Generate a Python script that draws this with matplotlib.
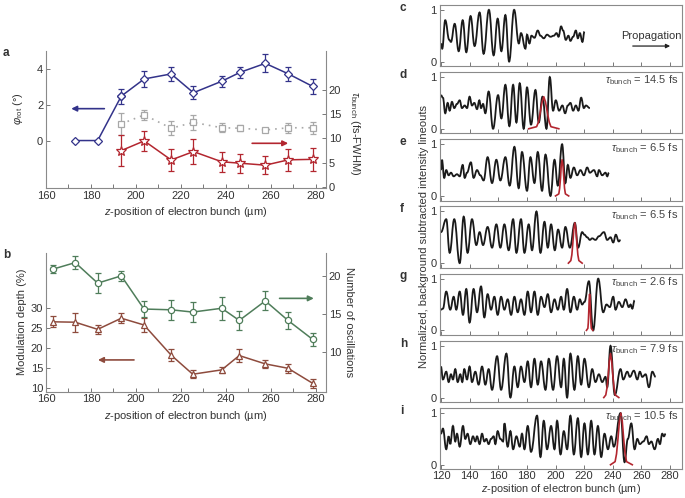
import numpy as np
import matplotlib.pyplot as plt
from matplotlib.path import Path
from matplotlib.patches import PathPatch
from matplotlib.ticker import MultipleLocator

plt.rcParams.update({'font.family': ['Liberation Sans', 'DejaVu Sans'], 'font.size': 8,
                     'mathtext.fontset': 'custom', 'mathtext.rm': 'Liberation Sans',
                     'mathtext.it': 'Liberation Sans:italic', 'text.color': '#333333',
                     'axes.labelcolor': '#333333', 'xtick.color': '#777777', 'ytick.color': '#777777',
                     'xtick.labelcolor': '#333333', 'ytick.labelcolor': '#333333'})

# ---- panel a ----
za = [173, 183, 193.5, 203.7, 215.7, 225.6, 238.2, 246.4, 257.6, 267.9, 278.7]
phi_rot = [0, 0, 2.48, 3.44, 3.72, 2.67, 3.31, 3.81, 4.31, 3.72, 3.02]
phi_err = [0, 0, 0.42, 0.44, 0.37, 0.35, 0.3, 0.3, 0.5, 0.37, 0.42]
zt = [193.5, 203.7, 215.7, 225.6, 238.2, 246.4, 257.6, 267.9, 278.7]
tau_gray = [13.0, 14.85, 12.1, 13.3, 12.2, 12.1, 11.75, 12.2, 12.2]
tau_gray_err = [2.2, 1.1, 1.4, 1.6, 0.9, 0.6, 0.5, 1.0, 1.2]
tau_red = [7.5, 9.5, 5.57, 7.3, 5.2, 4.9, 4.5, 5.6, 5.7]
tau_red_err = [3.2, 2.0, 2.3, 2.6, 2.1, 2.0, 1.9, 2.2, 2.4]

# ---- panel b ----
zb = [163, 173, 183, 193.5, 203.6, 215.7, 225.3, 238.2, 246, 257.6, 267.7, 278.7]
mod_depth = [26.6, 26.5, 24.7, 27.5, 25.8, 18.2, 13.4, 14.5, 18.1, 16.0, 14.9, 11.1]
mod_err = [1.35, 2.4, 1.2, 1.25, 1.7, 1.5, 1.0, 0.7, 1.7, 1.05, 1.2, 1.05]
n_osc = [20.83, 21.7, 19.0, 19.96, 15.6, 15.5, 15.2, 15.7, 14.1, 16.67, 14.1, 11.6]
n_osc_err = [0.55, 0.9, 1.35, 0.7, 1.0, 1.3, 1.35, 1.5, 1.3, 1.25, 1.1, 0.85]

# ---- panels c-i: lineouts (extrema) ----
c_x = [120.0, 120.9, 123.0, 125.8, 127.0, 129.6, 132.4, 135.2, 137.7, 140.7, 143.5, 147.0, 149.8, 153.5,
       156.8, 159.6, 162.2, 165.0, 167.6, 171.1, 174.4, 175.9, 179.0, 180.1, 181.8, 183.2, 185.3, 187.6,
       189.5, 191.8, 194.1, 196.5, 198.8, 200.7, 202.1, 203.9, 205.3, 207.2, 209.0, 210.4, 212.3, 214.2,
       215.6, 217.0, 218.8, 220.2]
c_y = [0.35, 0.25, 0.80, 0.42, 0.38, 0.73, 0.20, 0.80, 0.18, 0.88, 0.30, 0.95, 0.15, 1.00,
       0.12, 0.83, 0.20, 0.90, 0.00, 1.00, 0.35, 0.55, 0.25, 0.52, 0.35, 0.50, 0.46, 0.60,
       0.50, 0.45, 0.52, 0.48, 0.50, 0.55, 0.48, 0.68, 0.60, 0.42, 0.50, 0.40, 0.48, 0.60,
       0.45, 0.55, 0.38, 0.58]
d_x = [120.0, 121.4, 123.0, 124.7, 126.1, 127.7, 129.3, 131.2, 133.1, 134.7, 136.6, 138.2, 140.0, 141.7,
       143.3, 145.2, 146.8, 148.0, 149.4, 151.0, 153.3, 156.4, 159.9, 162.2, 165.0, 167.8, 170.4, 172.7,
       175.0, 177.8, 180.1, 182.9, 186.0, 188.3, 190.9, 193.7, 196.0, 198.3, 200.2, 202.5, 204.8, 206.7,
       208.6, 210.4, 212.3, 214.2, 216.0, 217.9, 219.8, 221.2, 224.0]
d_y = [0.65, 0.60, 0.30, 0.50, 0.35, 0.52, 0.40, 0.48, 0.55, 0.40, 0.45, 0.40, 0.62, 0.45,
       0.50, 0.38, 0.55, 0.40, 0.48, 0.30, 0.72, 0.00, 0.65, 0.20, 0.85, 0.05, 0.85, 0.12,
       0.88, 0.00, 0.80, 0.08, 0.75, 0.12, 0.62, 0.00, 1.00, 0.35, 0.55, 0.35, 0.45, 0.30,
       0.45, 0.50, 0.35, 0.45, 0.35, 0.60, 0.40, 0.45, 0.40]
e_x = [120.0, 120.7, 122.3, 123.7, 125.4, 127.0, 128.9, 131.2, 133.1, 135.2, 136.6, 138.2, 140.9, 142.8,
       145.2, 147.5, 149.8, 152.6, 155.7, 158.7, 161.5, 165.0, 168.0, 171.3, 174.3, 176.6, 180.1, 182.5,
       185.3, 187.6, 190.6, 193.0, 196.5, 199.3, 201.6, 204.6, 206.9, 208.6, 210.4, 212.8, 215.1, 217.4,
       219.8, 222.1, 224.0, 226.8, 229.1, 230.3, 232.6, 234.9, 236.1, 237.3]
e_y = [0.50, 0.70, 0.35, 0.50, 0.40, 0.45, 0.38, 0.42, 0.38, 0.60, 0.35, 0.45, 0.65, 0.35,
       0.50, 0.40, 0.30, 0.75, 0.25, 0.70, 0.30, 0.75, 0.20, 0.95, 0.15, 0.85, 0.10, 0.75,
       0.25, 0.85, 0.10, 0.80, 0.00, 0.70, 0.20, 1.00, 0.25, 0.60, 0.35, 0.55, 0.40, 0.50,
       0.40, 0.55, 0.45, 0.50, 0.38, 0.50, 0.40, 0.45, 0.38, 0.45]
f_x = [120.0, 123.7, 126.1, 129.3, 133.1, 135.9, 138.6, 141.7, 144.7, 147.0, 149.4, 152.6, 155.7, 158.7,
       161.5, 164.3, 167.3, 170.4, 172.7, 175.9, 178.3, 181.3, 183.6, 186.7, 189.5, 192.3, 194.6, 196.9,
       199.5, 201.8, 204.6, 206.9, 210.0, 213.5, 215.8, 218.6, 220.2, 222.1, 224.0, 225.6, 227.9, 230.3,
       233.8, 236.1, 238.4, 240.3, 242.1, 244.2, 245.4]
f_y = [0.60, 0.85, 0.20, 0.85, 0.00, 0.90, 0.20, 0.85, 0.35, 0.60, 0.35, 0.70, 0.30, 0.75,
       0.30, 0.75, 0.25, 0.85, 0.20, 0.85, 0.20, 0.75, 0.25, 1.00, 0.20, 0.80, 0.30, 0.75,
       0.25, 0.65, 0.30, 0.70, 0.30, 0.78, 0.30, 0.60, 0.55, 0.50, 0.45, 0.48, 0.45, 0.52,
       0.60, 0.45, 0.50, 0.40, 0.55, 0.42, 0.45]
g_x = [120.0, 121.4, 123.7, 126.5, 128.9, 130.7, 133.1, 135.4, 137.7, 140.0, 142.8, 145.2, 148.0, 150.3,
       152.6, 155.0, 157.3, 159.6, 162.0, 164.3, 166.6, 169.0, 171.3, 173.6, 175.9, 178.3, 180.6, 182.9,
       185.3, 187.6, 189.9, 192.3, 194.6, 196.9, 199.3, 201.6, 203.9, 205.8, 208.1, 210.4, 212.8, 215.1,
       217.0, 218.6, 220.2, 223.3, 226.3, 229.8, 233.3, 235.6, 237.9, 240.3, 241.9, 244.2, 246.6, 248.9,
       251.2, 252.4, 253.6, 255.2]
g_y = [0.40, 0.42, 0.75, 0.40, 0.65, 0.40, 0.75, 0.30, 0.80, 0.15, 0.80, 0.35, 0.85, 0.25,
       0.70, 0.40, 0.65, 0.30, 0.65, 0.40, 0.60, 0.30, 0.65, 0.35, 0.60, 0.30, 0.75, 0.35,
       0.75, 0.30, 0.65, 0.45, 0.70, 0.35, 0.60, 0.40, 0.65, 0.40, 0.80, 0.35, 0.65, 0.40,
       0.60, 0.50, 0.55, 0.95, 0.00, 1.00, 0.35, 0.50, 0.45, 0.65, 0.40, 0.55, 0.45, 0.60,
       0.45, 0.50, 0.42, 0.58]
h_x = [120.0, 121.4, 123.7, 125.4, 127.0, 128.4, 130.0, 131.7, 133.5, 134.9, 136.3, 138.2, 140.0, 141.7,
       144.0, 146.3, 148.7, 151.0, 153.3, 155.7, 159.2, 162.0, 165.7, 168.5, 171.3, 173.6, 175.9, 178.3,
       180.6, 182.9, 185.3, 187.6, 189.9, 193.0, 195.3, 198.3, 201.1, 203.9, 205.8, 208.1, 210.4, 213.2,
       215.6, 217.9, 220.2, 223.3, 225.6, 227.9, 230.3, 232.6, 234.9, 236.1, 238.4, 241.4, 245.4, 247.3,
       250.1, 251.9, 254.7, 257.1, 258.9, 260.6, 262.9, 265.2, 267.6, 269.9]
h_y = [0.60, 0.35, 0.50, 0.30, 0.45, 0.35, 0.55, 0.30, 0.45, 0.30, 0.55, 0.35, 0.60, 0.30,
       0.50, 0.25, 0.60, 0.25, 0.55, 0.15, 0.80, 0.15, 0.85, 0.00, 0.60, 0.20, 0.60, 0.30,
       0.70, 0.20, 0.75, 0.25, 0.70, 0.15, 0.75, 0.15, 0.80, 0.20, 0.75, 0.00, 0.85, 0.15,
       0.80, 0.25, 0.75, 0.20, 0.55, 0.30, 0.45, 0.30, 0.40, 0.20, 1.00, 0.05, 0.55, 0.35,
       0.50, 0.40, 0.52, 0.35, 0.50, 0.40, 0.45, 0.20, 0.50, 0.40]
i_x = [120.0, 121.4, 123.7, 125.4, 126.5, 128.4, 130.0, 131.2, 133.1, 135.4, 137.0, 138.6, 140.5, 142.4,
       144.0, 145.2, 147.0, 148.7, 150.3, 151.7, 153.3, 155.0, 156.8, 158.0, 159.6, 161.5, 163.4, 164.3,
       166.6, 168.5, 170.4, 172.7, 175.0, 176.6, 178.3, 180.6, 182.9, 187.1, 189.5, 191.8, 194.1, 196.9,
       199.3, 201.1, 203.5, 205.8, 208.1, 210.4, 212.8, 215.6, 217.9, 220.2, 222.6, 224.9, 227.2, 229.6,
       231.9, 234.2, 236.6, 238.9, 240.7, 245.4, 248.2, 250.5, 252.9, 255.2, 257.1, 258.9, 261.3, 263.6,
       265.2, 266.9, 269.2, 271.5, 272.9, 274.5, 275.7, 276.9]
i_y = [0.60, 0.70, 0.30, 0.55, 0.40, 0.75, 0.45, 0.60, 0.35, 0.75, 0.50, 0.60, 0.40, 0.55,
       0.45, 0.55, 0.40, 0.60, 0.45, 0.50, 0.40, 0.50, 0.55, 0.40, 0.65, 0.50, 0.45, 0.80,
       0.35, 0.65, 0.30, 0.55, 0.35, 0.60, 0.30, 0.75, 0.25, 0.95, 0.15, 0.85, 0.30, 0.75,
       0.30, 0.85, 0.20, 0.65, 0.30, 0.95, 0.20, 0.90, 0.15, 0.80, 0.20, 0.85, 0.20, 0.75,
       0.15, 0.60, 0.30, 0.55, 0.35, 1.00, 0.05, 0.50, 0.80, 0.30, 0.50, 0.40, 0.45, 0.55,
       0.40, 0.45, 0.30, 0.50, 0.40, 0.60, 0.55, 0.60]

# electron bunch profiles (red)
d_bx = [181.3, 186.8, 188.1, 189.3, 190.6, 191.8, 193.0, 194.3, 195.6, 196.8, 202.3]
d_by = [0, 0.04, 0.13, 0.31, 0.52, 0.62, 0.52, 0.31, 0.13, 0.04, 0]
e_bx = [200.0, 202.3, 202.9, 203.5, 204.0, 204.6, 205.2, 205.8, 206.3, 206.9, 209.2]
e_by = [0, 0.04, 0.15, 0.35, 0.59, 0.70, 0.59, 0.35, 0.15, 0.04, 0]
f_bx = [209.0, 210.7, 211.4, 212.1, 212.8, 213.5, 214.2, 214.9, 215.6, 216.3, 218.6]
f_by = [0, 0.05, 0.16, 0.39, 0.66, 0.78, 0.66, 0.39, 0.16, 0.05, 0]
g_bx = [221.6, 222.6, 222.9, 223.2, 223.5, 223.8, 224.1, 224.4, 224.7, 225.0, 226.0]
g_by = [0, 0.04, 0.15, 0.35, 0.59, 0.70, 0.59, 0.35, 0.15, 0.04, 0]
h_bx = [233.7, 235.1, 235.9, 236.8, 237.6, 238.4, 239.2, 240.0, 240.9, 241.7, 244.2]
h_by = [0, 0.05, 0.18, 0.43, 0.71, 0.85, 0.71, 0.43, 0.18, 0.05, 0]
i_bx = [238.4, 241.6, 242.6, 243.6, 244.6, 245.6, 246.6, 247.6, 248.6, 249.6, 253.6]
i_by = [0, 0.06, 0.21, 0.50, 0.84, 1.00, 0.84, 0.50, 0.21, 0.06, 0]
tau_bunch = ['14.5', '6.5', '6.5', '2.6', '7.9', '10.5']

BLUE = '#33338a'
RED = '#b3262f'
GRAY = '#a8a8a8'
GREEN = '#4f7d5a'
BROWN = '#8e4b3d'
SPINE = '#8a8a8a'
W, H = 685, 498

fig = plt.figure(figsize=(6.85, 4.98), dpi=100)


def add_ax(l, t, r, b):
    return fig.add_axes([l / W, 1 - b / H, (r - l) / W, (b - t) / H])


def style(ax, sides):
    for s, sp in ax.spines.items():
        sp.set_color(SPINE)
        sp.set_linewidth(0.8)
        sp.set_visible(s in sides)
    ax.tick_params(which='both', direction='in', length=3, width=0.7, labelsize=8, pad=2)


def smooth(ax, xs, ys, **kw):
    verts = [(xs[0], ys[0])]
    codes = [Path.MOVETO]
    for k in range(1, len(xs)):
        dx = (xs[k] - xs[k - 1]) * 0.42
        verts += [(xs[k - 1] + dx, ys[k - 1]), (xs[k] - dx, ys[k]), (xs[k], ys[k])]
        codes += [Path.CURVE4] * 3
    ax.add_patch(PathPatch(Path(verts, codes), fill=False, **kw))


eb = dict(capsize=2.3, elinewidth=0.9, capthick=0.9, mew=0.9, mfc='white')

# ---------------- a ----------------
ax = add_ax(46, 51, 326, 188)
ax2 = ax.twinx()
style(ax, ['left', 'bottom'])
style(ax2, ['right'])
ax.errorbar(za[2:], phi_rot[2:], yerr=phi_err[2:], color=BLUE, marker='D', ms=4.5, lw=1.1, **eb)
ax.plot(za[:3], phi_rot[:3], color=BLUE, marker='D', ms=4.5, mfc='white', mew=0.9, lw=1.1)
ax2.errorbar(zt, tau_gray, yerr=tau_gray_err, color=GRAY, marker='s', ms=4, ls=(0, (1, 3)), lw=1.2, **eb)
ax2.errorbar(zt, tau_red, yerr=tau_red_err, color=RED, marker='*', ms=7.5, lw=1.1, **eb)
ax.set_xlim(160, 284.6)
ax.set_ylim(-2.65, 5)
ax2.set_ylim(-0.2, 28)
ax.set_yticks([0, 2, 4])
ax2.set_yticks([0, 5, 10, 15, 20])
ax.xaxis.set_major_locator(MultipleLocator(20))
ax.xaxis.set_minor_locator(MultipleLocator(10))
ax.set_xlabel('$z$-position of electron bunch (µm)', labelpad=3)
ax.set_ylabel(r'$\varphi_{\rm rot}$ (°)', labelpad=2)
ax.yaxis.set_label_coords(-0.075, 0.58)
ax2.set_ylabel(r'$\tau_{\rm bunch}$ (fs-FWHM)', rotation=270, labelpad=10)
ax2.yaxis.set_label_coords(1.13, 0.4)
ax.annotate('', xy=(170, 1.78), xytext=(187.2, 1.78),
            arrowprops=dict(arrowstyle='-|>', color=BLUE, lw=1.2, mutation_scale=8))
ax2.annotate('', xy=(269, 9.0), xytext=(250.5, 9.0),
             arrowprops=dict(arrowstyle='-|>', color=RED, lw=1.2, mutation_scale=8))

# ---------------- b ----------------
bx = add_ax(46, 252.7, 326, 391.7)
bx2 = bx.twinx()
style(bx, ['left', 'bottom'])
style(bx2, ['right'])
bx.errorbar(zb, mod_depth, yerr=mod_err, color=BROWN, marker='^', ms=5, lw=1.1, **eb)
bx2.errorbar(zb, n_osc, yerr=n_osc_err, color=GREEN, marker='o', ms=4.5, lw=1.1, **eb)
bx.set_xlim(160, 284.6)
bx.set_ylim(9, 44)
bx2.set_ylim(4.74, 23.0)
bx.set_yticks([10, 15, 20, 25, 30])
bx2.set_yticks([10, 15, 20])
bx.xaxis.set_major_locator(MultipleLocator(20))
bx.xaxis.set_minor_locator(MultipleLocator(10))
bx.set_xlabel('$z$-position of electron bunch (µm)', labelpad=3)
bx.set_ylabel('Modulation depth (%)', labelpad=3)
bx2.set_ylabel('Number of oscillations', rotation=270, labelpad=10)
bx2.yaxis.set_label_coords(1.1, 0.5)
bx.annotate('', xy=(181.9, 17.0), xytext=(200.4, 17.0),
            arrowprops=dict(arrowstyle='-|>', color=BROWN, lw=1.2, mutation_scale=8))
bx2.annotate('', xy=(280.4, 17.0), xytext=(262.7, 17.0),
             arrowprops=dict(arrowstyle='-|>', color=GREEN, lw=1.2, mutation_scale=8))

fig.text(3 / W, 1 - 53 / H, 'a', fontweight='bold', fontsize=8.5, va='center')
fig.text(3 / W, 1 - 255 / H, 'b', fontweight='bold', fontsize=8.5, va='center')

# ---------------- c - i ----------------
traces = [('c', c_x, c_y), ('d', d_x, d_y), ('e', e_x, e_y), ('f', f_x, f_y),
          ('g', g_x, g_y), ('h', h_x, h_y), ('i', i_x, i_y)]
bunches = [None, (d_bx, d_by), (e_bx, e_by), (f_bx, f_by), (g_bx, g_by), (h_bx, h_by), (i_bx, i_by)]
for n, (lab, xs, ys) in enumerate(traces):
    top = 4.7 + n * 67.2
    rx = add_ax(439.5, top, 681.7, top + 61.5)
    style(rx, ['left', 'bottom', 'top', 'right'])
    smooth(rx, xs, ys, color='#1a1a1a', lw=1.3)
    if bunches[n] is not None:
        rx.plot(bunches[n][0], bunches[n][1], color=RED, lw=1.2)
        rx.text(0.985, 0.86, r'$\tau_{\rm bunch}$ = %s fs' % tau_bunch[n - 1], transform=rx.transAxes,
                ha='right', va='center', fontsize=8, color='#444444')
    rx.set_xlim(119.0, 288.1)
    rx.set_ylim(-0.09, 1.1)
    rx.set_yticks([0, 1])
    rx.set_xticks(np.arange(120, 281, 20))
    if n < 6:
        rx.tick_params(labelbottom=False)
    else:
        rx.tick_params(axis='x', pad=1.5)
        rx.set_xlabel('$z$-position of electron bunch (µm)', labelpad=0.5, fontsize=7.8)
    fig.text(400 / W, 1 - (top + 3) / H, lab, fontweight='bold', fontsize=8.5, va='center')
    if lab == 'c':
        rx.text(266.7, 0.5, 'Propagation', ha='center', va='center', fontsize=8)
        rx.annotate('', xy=(282, 0.3), xytext=(252, 0.3),
                    arrowprops=dict(arrowstyle='-|>', color='#222222', lw=0.9, mutation_scale=6))

fig.text(424 / W, 1 - 237 / H, 'Normalized, background subtracted intensity lineouts',
         rotation=90, ha='center', va='center', fontsize=8)

fig.savefig('out.png', dpi=100)
